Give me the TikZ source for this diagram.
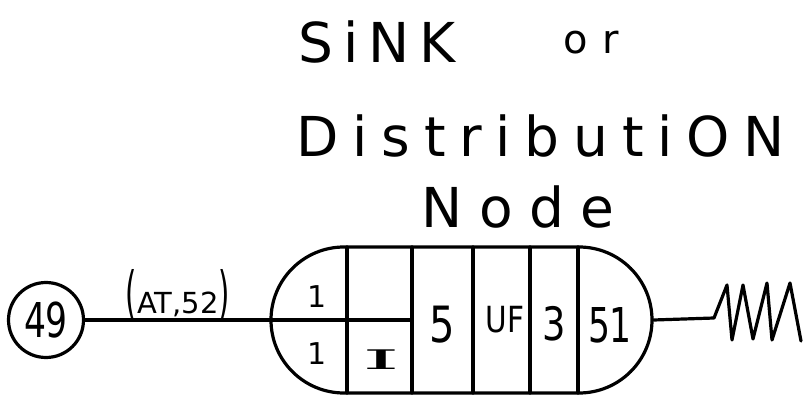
\documentclass[tikz,border=0pt]{standalone}
\usepackage{fontspec}
\setmainfont{DejaVu Sans}
\newfontfamily\hand{DejaVu Sans}
\newfontfamily\handserif{DejaVu Serif}
\usetikzlibrary{shapes.misc}
\begin{document}
\begin{tikzpicture}[x=1pt,y=-1pt,line width=3.2pt,line join=round,line cap=round,
  ttl/.style={anchor=base west,inner sep=0pt,font=\hand\fontsize{55}{60}\selectfont},
  celltxt/.style={inner sep=0pt,anchor=center,font=\hand}]
\useasboundingbox (0,0) rectangle (804,401);
% title
\node[ttl] (t1) at (297,63) {\addfontfeatures{LetterSpace=18}SiNK};
\node[ttl,font=\hand\fontsize{40}{44}\selectfont] (t2) at (562,54) {\addfontfeatures{LetterSpace=35}or};
\node[ttl] (t3) at (295,157) {\addfontfeatures{LetterSpace=25}DistributiON};
\node[ttl] (t4) at (420,227) {\addfontfeatures{LetterSpace=30}Node};
% capsule
\node[draw,rounded rectangle,minimum width=381pt,minimum height=146pt,inner sep=0pt] (cap) at (461.5,320) {};
\foreach \x in {347,412,473,530,578} \draw (\x,247) -- (\x,393);
\coordinate (hd) at (412,320);
\draw (cap.west) -- (hd);
% cell texts
\node[celltxt,font=\hand\fontsize{30}{32}\selectfont] (c1a) at (317,297) {1};
\node[celltxt,font=\hand\fontsize{30}{32}\selectfont] (c1b) at (317,354) {1};
\node[celltxt,font=\handserif\fontsize{30}{32}\selectfont] (cI) at (381,360) {\scalebox{3.2}[0.9]{I}};
\node[celltxt,font=\hand\fontsize{50}{52}\selectfont] (c5) at (442,325) {\scalebox{0.8}[1]{5}};
\node[celltxt,font=\hand\fontsize{36}{38}\selectfont] (cuf) at (505,320) {\scalebox{0.82}[1]{UF}};
\node[celltxt,font=\hand\fontsize{46}{48}\selectfont] (c3) at (554,324) {\scalebox{0.8}[1]{3}};
\node[celltxt,font=\hand\fontsize{48}{50}\selectfont] (c51) at (610,325) {\scalebox{0.72}[1]{51}};
% source node
\node[draw,circle,minimum size=75pt,inner sep=0pt,font=\hand\fontsize{48}{50}\selectfont] (n49) at (46,320) {\scalebox{0.72}[1]{49}};
\draw (n49) -- (cap);
\node[anchor=base,inner sep=0pt,font=\hand\fontsize{29}{31}\selectfont] (lab) at (178,313) {\scalebox{1}[2]{(}AT,52\scalebox{1}[2]{)}};
% sink spring
\coordinate (z0) at (714,318);
\coordinate (zend) at (801,341);
\draw (cap.east) -- (z0) -- (727,285) -- (732,340) -- (743,285) -- (753,339) -- (767,283) -- (772,340) -- (790,283) -- (zend);
\end{tikzpicture}
\end{document}
